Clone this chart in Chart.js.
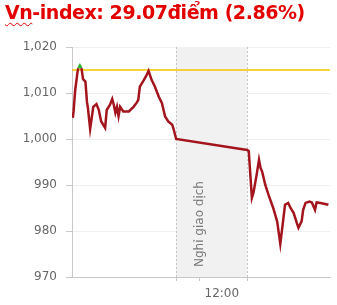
<!DOCTYPE html>
<html>
<head>
<meta charset="utf-8">
<script src="https://cdn.jsdelivr.net/npm/chart.js@4.4.1/dist/chart.umd.min.js"></script>
<style>
  body { margin: 0; background: #fff; }
  .wrap { position: relative; width: 337px; height: 305px; }
  .title {
    position: absolute; left: 5px; top: 1px;
    font-family: "DejaVu Sans", sans-serif; font-weight: bold; font-size: 19px;
    color: #e20000; white-space: nowrap; letter-spacing: -0.45px;
  }
  .title .sp { text-decoration: underline wavy #e20000; text-decoration-thickness: 1px; text-underline-offset: 3px; }
  canvas { position: absolute; left: 0; top: 0; }
</style>
</head>
<body>
<div class="wrap">
  <canvas id="myChart" width="337" height="305"></canvas>
  <div class="title"><span class="sp">Vn</span>-index: 29.07điểm (2.86%)</div>
</div>
<script>
// ---------- data ----------
// minutes since midnight
var times = [559, 560, 562, 565, 566, 568, 570, 572, 575, 577,
  578, 581, 585, 589, 592, 595, 600, 602, 606, 609,
  611, 613, 615, 617, 619, 623, 630, 636, 640, 642,
  644, 649, 652, 655, 659, 663, 668, 672, 676, 680,
  685, 687, 690, 780, 782, 786, 788, 792, 795, 797,
  799, 803, 807, 813, 818, 822, 825, 828, 832, 835,
  839, 843, 845, 849, 851, 854, 859, 862, 866, 868,
  873, 883];
var values = [1004.6, 1006, 1010.5, 1014.6, 1015.4, 1016, 1015.4, 1013, 1012.5, 1008,
  1007, 1002.2, 1007, 1007.6, 1006.3, 1003.8, 1002.4, 1006.3, 1007.4, 1008.7,
  1007.4, 1005.7, 1007, 1005, 1007, 1006, 1006, 1007, 1007.9, 1008.5,
  1011.4, 1012.8, 1013.7, 1014.8, 1012.8, 1011.4, 1009.2, 1007.8, 1004.9, 1003.8,
  1003.1, 1002, 1000, 997.6, 997.4, 987.2, 988.3, 992.2, 995.5, 993.7,
  992.9, 990, 987.9, 985, 982.1, 977.2, 981.4, 985.7, 986.1, 985,
  983.9, 981.7, 980.7, 982.1, 984.6, 986.1, 986.4, 986.2, 984.6, 986.2,
  986.1, 985.7];
var refValue = 1015;            // reference (previous close)
var breakStart = 690;           // 11:30
var breakEnd = 780;             // 13:00
var breakLabel = 'Nghỉ giao dịch';
var xTicks = [690, 720, 780];
var xLabels = { 720: '12:00' };
var yMin = 970, yMax = 1020, yStep = 10;
var xMin = 558, xMax = 885;

var points = times.map(function (t, i) { return { x: t, y: values[i] }; });

// ---------- break band ----------
const breakBand = {
  id: 'breakBand',
  beforeDatasetsDraw(chart) {
    const ctx = chart.ctx;
    const a = chart.chartArea;
    const x = chart.scales.x;
    const x1 = x.getPixelForValue(breakStart);
    const x2 = x.getPixelForValue(breakEnd);
    ctx.save();
    ctx.fillStyle = '#f1f1f1';
    ctx.fillRect(x1, a.top, x2 - x1, a.bottom - a.top);
    ctx.strokeStyle = '#c4c4c4';
    ctx.lineWidth = 1;
    ctx.setLineDash([2, 2]);
    [x1, x2].forEach(function (px) {
      ctx.beginPath();
      ctx.moveTo(Math.round(px) + 0.5, a.top);
      ctx.lineTo(Math.round(px) + 0.5, a.bottom);
      ctx.stroke();
    });
    ctx.setLineDash([]);
    // vertical label
    const cx = x.getPixelForValue((breakStart + breakEnd) / 2 - 15);
    ctx.translate(cx, a.bottom - 10);
    ctx.rotate(-Math.PI / 2);
    ctx.fillStyle = '#777';
    ctx.font = '12px "DejaVu Sans"';
    ctx.textAlign = 'left';
    ctx.textBaseline = 'middle';
    ctx.fillText(breakLabel, 0, 0);
    ctx.restore();
  }
};

new Chart(document.getElementById('myChart').getContext('2d'), {
  type: 'line',
  data: {
    datasets: [{
      data: points,
      borderColor: '#a3141c',
      borderWidth: 2.5,
      pointRadius: 0,
      tension: 0,
      segment: {
        borderColor: c => (c.p0.parsed.y >= refValue && c.p1.parsed.y >= refValue) ? '#33b533' : undefined
      },
      order: 1
    }, {
      data: [{ x: xMin, y: refValue }, { x: xMax, y: refValue }],
      borderColor: '#f7c300',
      borderWidth: 1.5,
      pointRadius: 0,
      order: 2
    }]
  },
  options: {
    responsive: false,
    animation: false,
    layout: { padding: { top: 47, right: 7, left: 0, bottom: 0 } },
    plugins: { legend: { display: false }, tooltip: { enabled: false } },
    scales: {
      x: {
        type: 'linear',
        min: xMin, max: xMax,
        afterBuildTicks: s => { s.ticks = xTicks.map(v => ({ value: v })); },
        afterFit: s => { s.height = 28; },
        border: { color: '#c8c8c8' },
        grid: { drawOnChartArea: false, tickLength: 4, color: '#c8c8c8' },
        ticks: {
          autoSkip: false, maxRotation: 0,
          padding: 6, labelOffset: 22,
          color: '#666', font: { family: 'DejaVu Sans', size: 12 },
          callback: v => xLabels[v] || ''
        }
      },
      y: {
        min: yMin, max: yMax,
        afterFit: s => { s.width = 72; },
        border: { color: '#c8c8c8' },
        grid: { color: '#efefef', tickColor: '#c8c8c8', tickLength: 6 },
        ticks: {
          stepSize: yStep, padding: 9,
          color: '#666', font: { family: 'DejaVu Sans', size: 12 },
          callback: v => v.toLocaleString('en-US')
        }
      }
    }
  },
  plugins: [breakBand]
});
</script>
</body>
</html>
